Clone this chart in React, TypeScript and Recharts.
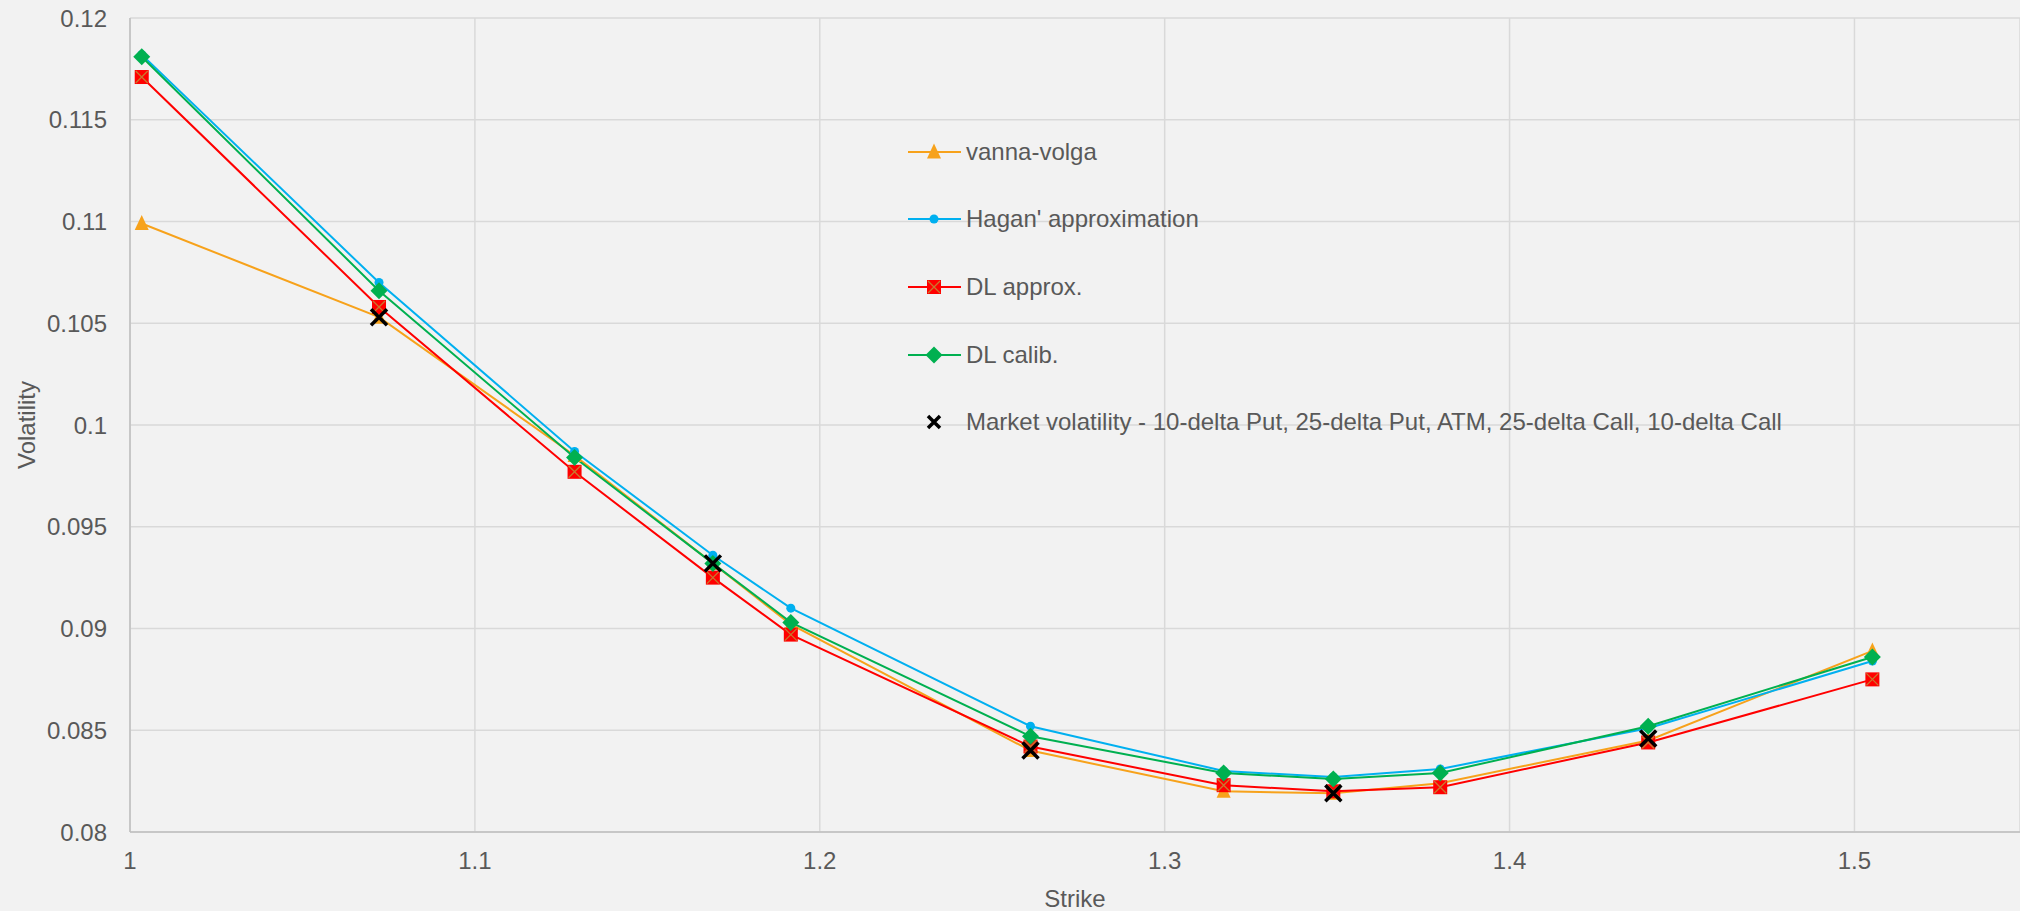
import React from 'react';
import { ComposedChart, Line, XAxis, YAxis, CartesianGrid, Legend } from 'recharts';

// strikes (x positions of the markers)
const strikes = [1.0034, 1.0722, 1.1289, 1.169, 1.1916, 1.2611, 1.3171, 1.3489, 1.3799, 1.4402, 1.5052];

const vannaVolga = [0.1099, 0.1053, 0.0985, 0.0932, 0.0902, 0.084, 0.082, 0.0819, 0.0824, 0.0845, 0.0889];
const hagan = [0.1182, 0.107, 0.0987, 0.0936, 0.091, 0.0852, 0.083, 0.0827, 0.0831, 0.0851, 0.0884];
const dlApprox = [0.1171, 0.1058, 0.0977, 0.0925, 0.0897, 0.0842, 0.0823, 0.082, 0.0822, 0.0844, 0.0875];
const dlCalib = [0.1181, 0.1066, 0.0984, 0.0932, 0.0903, 0.0847, 0.0829, 0.0826, 0.0829, 0.0852, 0.0886];
// market quotes only exist at 10dP, 25dP, ATM, 25dC, 10dC
const market = [null, 0.1053, null, 0.0932, null, 0.084, null, 0.0819, null, 0.0846, null];

const seriesNames = [
  'vanna-volga',
  "Hagan' approximation",
  'DL approx.',
  'DL calib.',
  'Market volatility - 10-delta Put, 25-delta Put, ATM, 25-delta Call, 10-delta Call',
];

const xTicks = [1, 1.1, 1.2, 1.3, 1.4, 1.5];
const yTicks = [0.08, 0.085, 0.09, 0.095, 0.1, 0.105, 0.11, 0.115, 0.12];

const data = strikes.map((s, i) => ({
  strike: s,
  vv: vannaVolga[i],
  hagan: hagan[i],
  dlApprox: dlApprox[i],
  dlCalib: dlCalib[i],
  market: market[i],
}));

const ORANGE = '#f7a21b';
const BLUE = '#00b0f0';
const RED = '#ff0000';
const GREEN = '#00b050';
const TEXT = '#595959';
const FONT = '"Liberation Sans", Arial, sans-serif';

const Triangle = ({ cx, cy }: any) => (
  <polygon points={`${cx},${cy - 8.5} ${cx - 7},${cy + 6.5} ${cx + 7},${cy + 6.5}`} fill={ORANGE} />
);
const Circle = ({ cx, cy }: any) => <circle cx={cx} cy={cy} r={4.5} fill={BLUE} />;
const Square = ({ cx, cy }: any) => (
  <g>
    <rect x={cx - 7} y={cy - 7} width={14} height={14} fill={RED} />
    <path d={`M${cx - 6},${cy - 6}L${cx + 6},${cy + 6}M${cx + 6},${cy - 6}L${cx - 6},${cy + 6}`} stroke="#c9782e" strokeWidth={1.3} />
  </g>
);
const Diamond = ({ cx, cy }: any) => (
  <polygon points={`${cx},${cy - 8.5} ${cx + 8.5},${cy} ${cx},${cy + 8.5} ${cx - 8.5},${cy}`} fill={GREEN} />
);
const Cross = ({ cx, cy }: any) => (
  <path d={`M${cx - 8},${cy - 8}L${cx + 8},${cy + 8}M${cx + 8},${cy - 8}L${cx - 8},${cy + 8}`} stroke="#000" strokeWidth={3.5} />
);
const SmallCross = ({ cx, cy }: any) => (
  <path d={`M${cx - 6},${cy - 6}L${cx + 6},${cy + 6}M${cx + 6},${cy - 6}L${cx - 6},${cy + 6}`} stroke="#000" strokeWidth={3.5} />
);

const dotOf = (Shape: any) => (props: any) => {
  const { cx, cy, index } = props;
  if (cx == null || cy == null || Number.isNaN(cy)) return <g key={`n-${index}`} />;
  return <Shape key={`d-${index}`} cx={cx} cy={cy} />;
};

const legendIcons = [
  { color: ORANGE, Shape: Triangle, line: true },
  { color: BLUE, Shape: Circle, line: true },
  { color: RED, Shape: Square, line: true },
  { color: GREEN, Shape: Diamond, line: true },
  { color: '#000', Shape: SmallCross, line: false },
];

const LegendBox = () => (
  <div style={{ fontFamily: FONT, fontSize: 24, color: TEXT }}>
    {seriesNames.map((name, i) => {
      const { color, Shape, line } = legendIcons[i];
      return (
        <div key={name} style={{ height: 67.7, display: 'flex', alignItems: 'center', whiteSpace: 'nowrap' }}>
          <svg width={53} height={24} style={{ flex: 'none' }}>
            {line && <line x1={0} y1={12} x2={53} y2={12} stroke={color} strokeWidth={2} />}
            <Shape cx={26} cy={12} />
          </svg>
          <span style={{ marginLeft: 5 }}>{name}</span>
        </div>
      );
    })}
  </div>
);

export default function App() {
  return (
    <div style={{ position: 'absolute', left: 0, top: 0, width: 2020, height: 911, background: '#f2f2f2' }}>
      <ComposedChart width={2020} height={911} data={data} margin={{ top: 18, right: 0, left: 0, bottom: 0 }}>
        <CartesianGrid stroke="#d9d9d9" strokeWidth={1.5} />
        <XAxis
          type="number"
          dataKey="strike"
          domain={[1, 1.548]}
          ticks={xTicks}
          interval={0}
          allowDataOverflow
          tickFormatter={(v: number) => String(v)}
          height={79}
          tickLine={false}
          tickSize={6}
          tickMargin={14}
          axisLine={{ stroke: '#bfbfbf', strokeWidth: 1.5 }}
          tick={{ fill: TEXT, fontSize: 24, fontFamily: FONT }}
          label={{ value: 'Strike', position: 'insideBottom', offset: 4, fill: TEXT, fontSize: 24, fontFamily: FONT }}
        />
        <YAxis
          type="number"
          domain={[0.08, 0.12]}
          ticks={yTicks}
          interval={0}
          tickFormatter={(v: number) => String(v)}
          width={130}
          tickLine={false}
          tickSize={6}
          tickMargin={17}
          axisLine={{ stroke: '#bfbfbf', strokeWidth: 1.5 }}
          tick={{ fill: TEXT, fontSize: 24, fontFamily: FONT }}
          label={{ value: 'Volatility', angle: -90, position: 'inside', dx: -39, fill: TEXT, fontSize: 24, fontFamily: FONT }}
        />
        <Legend
          layout="vertical"
          align="center"
          verticalAlign="middle"
          content={<LegendBox />}
          wrapperStyle={{ left: 908, top: 117.8, width: 1000 }}
        />
        <Line dataKey="vv" name={seriesNames[0]} stroke={ORANGE} strokeWidth={2} dot={dotOf(Triangle)} activeDot={false} isAnimationActive={false} />
        <Line dataKey="hagan" name={seriesNames[1]} stroke={BLUE} strokeWidth={2} dot={dotOf(Circle)} activeDot={false} isAnimationActive={false} />
        <Line dataKey="dlApprox" name={seriesNames[2]} stroke={RED} strokeWidth={2} dot={dotOf(Square)} activeDot={false} isAnimationActive={false} />
        <Line dataKey="dlCalib" name={seriesNames[3]} stroke={GREEN} strokeWidth={2} dot={dotOf(Diamond)} activeDot={false} isAnimationActive={false} />
        <Line dataKey="market" name={seriesNames[4]} stroke="none" dot={dotOf(Cross)} activeDot={false} isAnimationActive={false} />
      </ComposedChart>
    </div>
  );
}
